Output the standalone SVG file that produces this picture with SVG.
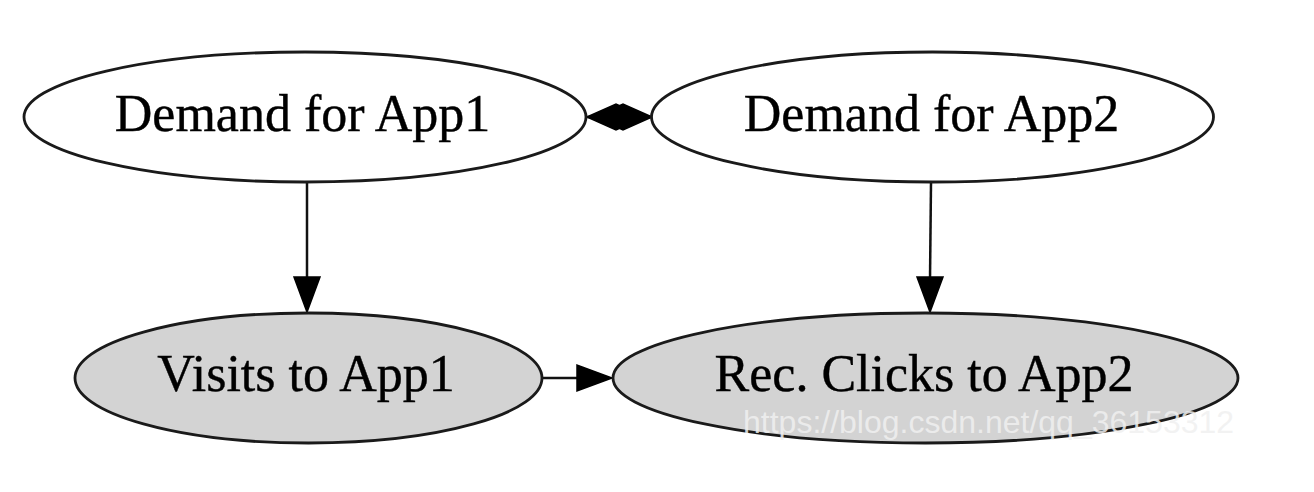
<svg xmlns="http://www.w3.org/2000/svg" width="1314" height="492" viewBox="0 0 1314 492">
<style>
.node ellipse{stroke:#1a1a1a;stroke-width:2.8}
.plain{fill:#fff}
.obs{fill:#d3d3d3}
.lbl{font-family:"Liberation Serif","Times New Roman",serif;font-size:52px;fill:#000;stroke:#000;stroke-width:0.4;text-anchor:middle}
.edge{stroke:#111;stroke-width:2.5;fill:none}
.head{fill:#000;stroke:#000;stroke-width:1.5}
.wm{font-family:"Liberation Sans",Arial,sans-serif;font-size:32px;fill:#f0f0f0;fill-opacity:0.85}
</style>
<rect width="1314" height="492" fill="#fff"/>
<g id="connectors">
<g id="e_app1_app2">
<line class="edge" x1="587" y1="117" x2="652" y2="117"/>
<polygon class="head" points="587,117 616,104 645,117 616,130"/>
<polygon class="head" points="652,117 623,104 594,117 623,130"/>
</g>
<g id="e_d1_v1">
<line class="edge" x1="307" y1="183" x2="307" y2="280"/>
<polygon class="head" points="294,277 320,277 307,312"/>
</g>
<g id="e_d2_r2">
<line class="edge" x1="931" y1="183" x2="930" y2="280"/>
<polygon class="head" points="917,277 943,277 930,312"/>
</g>
<g id="e_v1_r2">
<line class="edge" x1="542" y1="378" x2="580" y2="378"/>
<polygon class="head" points="577,365 577,391 612,378"/>
</g>
</g>
<g id="demand_app1" class="node">
<ellipse class="plain" cx="305" cy="117" rx="281" ry="65"/>
<text class="lbl" x="302.5" y="131">Demand for App1</text>
</g>
<g id="demand_app2" class="node">
<ellipse class="plain" cx="932.5" cy="117" rx="281" ry="65"/>
<text class="lbl" x="931.5" y="131">Demand for App2</text>
</g>
<g id="visits_app1" class="node">
<ellipse class="obs" cx="308.5" cy="378" rx="233.5" ry="65"/>
<text class="lbl" x="306" y="391">Visits to App1</text>
</g>
<g id="rec_clicks_app2" class="node">
<ellipse class="obs" cx="925.5" cy="378" rx="312.5" ry="65"/>
<text class="lbl" x="924" y="391">Rec. Clicks to App2</text>
</g>
<text class="wm" x="743" y="433">https://blog.csdn.net/qq_36153312</text>
</svg>
